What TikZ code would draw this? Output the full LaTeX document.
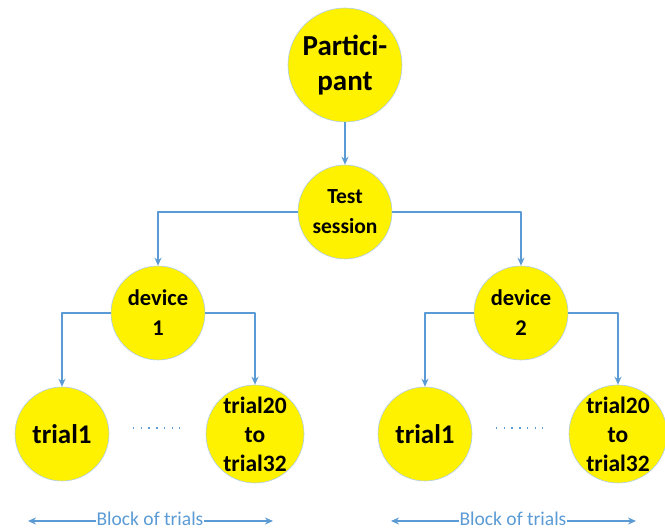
\documentclass[tikz,border=0pt]{standalone}
\usepackage{fontspec}
\setmainfont{Carlito}
\usetikzlibrary{arrows.meta}
\definecolor{lineblue}{RGB}{91,155,213}
\definecolor{rimblue}{RGB}{175,203,235}
\begin{document}
\begin{tikzpicture}[x=1pt,y=1pt,>={Stealth[length=8pt,width=7pt]},line join=round,
	bubble/.style={circle,fill=yellow,draw=rimblue,line width=.6pt,inner sep=0pt,minimum size=94pt,align=center,font=\bfseries},
	link/.style={lineblue,line width=1.9pt}]
		\useasboundingbox (0,0) rectangle (665,529);
		\def\yrow{95}
		\node[bubble,minimum size=114pt,font=\bfseries\fontsize{29}{35}\selectfont] (part) at (345,464) {Partici-\\pant};
		\node[bubble,font=\bfseries\fontsize{21.5}{30}\selectfont] (sess) at (345,317) {Test\\session};
		\draw[link,->] (part) -- (sess);
		\foreach \d/\x in {1/158,2/521}{
			\node[bubble,font=\bfseries\fontsize{22.5}{30}\selectfont] (dev\d) at (\x,216) {device\\\d};
			\node[bubble,font=\bfseries\fontsize{27}{32}\selectfont] (lo\d) at (\x-96,\yrow) {trial1};
			\node[bubble,font=\bfseries\fontsize{23.5}{29}\selectfont] (hi\d) at (\x+97,\yrow) {trial20\\to\\trial32};
			\draw[link,->] (dev\d.west) -| (lo\d);
			\draw[link,->] (dev\d.east) -| (hi\d);
			% dotted gap between the trials
			\draw[lineblue,line width=1.4pt,dash pattern=on 1.4pt off 6.3pt] (\x-25,101) -- (\x+22,101);
			% block of trials
			\node[text=lineblue,inner sep=0pt,font=\fontsize{19.5}{22}\selectfont] (blk\d) at (\x-8,10.5) {Block of trials};
			\coordinate (bl\d) at (\x-130,8);
			\coordinate (br\d) at (\x+115,8);
			\draw[link,->] (blk\d.west) ++(0,-2.5) -- (bl\d);
			\draw[link,->] (blk\d.east) ++(0,-2.5) -- (br\d);
		}
		\draw[link,->] (sess.west) -| (dev1);
		\draw[link,->] (sess.east) -| (dev2);
	\end{tikzpicture}
\end{document}
